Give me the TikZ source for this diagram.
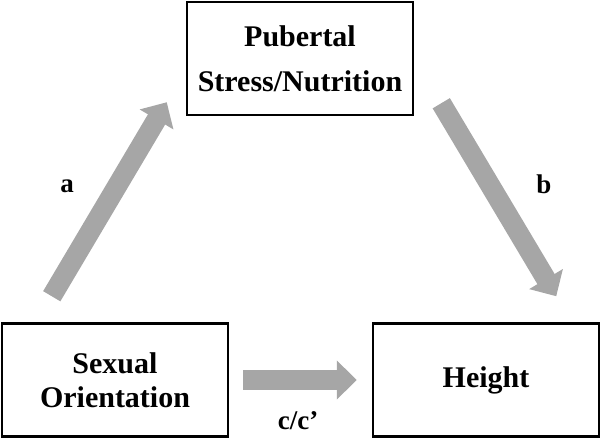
\documentclass[tikz,border=0pt]{standalone}
\usepackage{fontspec}
\setmainfont{Liberation Serif}
\usetikzlibrary{arrows.meta,positioning}
\definecolor{arrowgray}{RGB}{166,166,166}

\begin{document}
\begin{tikzpicture}[x=1pt,y=1pt]
    \tikzset{block/.style= {draw, rectangle
    , line width=2.5pt
    , minimum width=226pt
    , minimum height=113pt
    , node distance=371pt
    , align=center
    , font=\bfseries\fontsize{30}{34}\selectfont
      }
    , fat/.style= {draw=arrowgray, line width=20pt
    , -{Triangle[width=38pt,length=20pt]}
      }
    , lbl/.style= {font=\bfseries\fontsize{27}{30}\selectfont}
    }
\useasboundingbox (0,0) rectangle (600,438);

\node [block] (so) at (115,58) {Sexual\\Orientation};
\node [block, right of=so] (ht) {Height};
\node [block, font=\bfseries\fontsize{30}{45}\selectfont] (ps) at (300,379.5) {Pubertal\\Stress/Nutrition};

 \path[fat]
  ([shift={(51pt,26pt)}]so.north west) -- ([shift={(-19pt,14pt)}]ps.south west);
 \path[fat]
  ([shift={(27pt,13pt)}]ps.south east) -- ([shift={(-44pt,26pt)}]ht.north east);
 \path[fat, shorten <=14pt, shorten >=15pt]
  (so) -- (ht);

\node [lbl] (la) at (67,252) {a};
\node [lbl] (lb) at (544,254) {b};
\node [lbl] (lc) at (298,17) {c/c'};
\end{tikzpicture}
\end{document}
